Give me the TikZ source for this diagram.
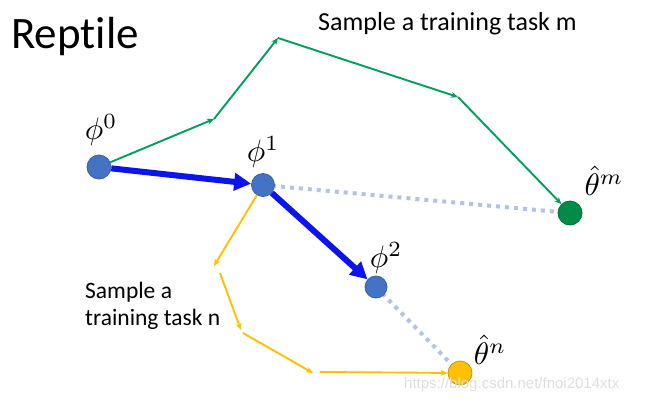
\documentclass[tikz,border=0pt]{standalone}
\usepackage{fontspec}
\setmainfont{Carlito}[Ligatures=CommonOff]
\newfontfamily\wmfont{Liberation Sans}
\usetikzlibrary{arrows.meta}
\definecolor{nodeblue}{RGB}{68,114,196}
\definecolor{nodeblueb}{RGB}{58,98,170}
\definecolor{arrblue}{RGB}{10,20,235}
\definecolor{grn}{RGB}{0,160,90}
\definecolor{grnnode}{RGB}{0,140,70}
\definecolor{gold}{RGB}{255,192,0}
\definecolor{goldb}{RGB}{200,150,0}
\definecolor{dotc}{RGB}{178,194,226}
\definecolor{wm}{RGB}{222,222,222}
\newcommand{\biglab}[1]{\scalebox{3.1}{$#1$}}
\tikzset{
  pt/.style={circle, inner sep=0pt, minimum size=#1, line width=0.8pt},
  bluept/.style={pt=24pt, fill=nodeblue, draw=nodeblueb},
  bigarrow/.style={arrblue, line width=6pt, -{Triangle[length=17pt,width=17pt]}},
  grnarrow/.style={grn, line width=1.9pt, -{Stealth[length=7pt,width=6pt]}},
  yelarrow/.style={gold, line width=1.9pt, -{Stealth[length=7pt,width=6pt]}},
  dotline/.style={dotc, line width=4pt, dash pattern=on 4pt off 5pt},
  lab/.style={inner sep=0pt}
}
\begin{document}
\begin{tikzpicture}[x=1pt,y=-1pt]
\useasboundingbox (0,0) rectangle (646,400);
% title
\node[anchor=base west, inner sep=0pt, font=\fontsize{45}{50}\selectfont] (title) at (11,48) {Reptile};
\node[anchor=base west, inner sep=0pt, font=\fontsize{26}{29}\selectfont] (tm) at (318,30) {Sample a training task m};
\node[anchor=base west, inner sep=0pt, align=left, font=\fontsize{23.5}{27}\selectfont] (tn) at (85,325) {Sample a\\training task n};
% coordinates
\coordinate (g1) at (214,119);
\coordinate (g2) at (278,38);
\coordinate (g3) at (458,97);
\coordinate (y1) at (214,266);
\coordinate (y1b) at (220,273);
\coordinate (y2) at (241,330);
\coordinate (y2b) at (243,333);
\coordinate (y3) at (313,373);
\coordinate (y3b) at (320,372);
% dotted lines (under nodes)
\coordinate (p1) at (263,185);
\coordinate (tm0) at (570,213);
\coordinate (p2) at (376,287);
\coordinate (tn0) at (460,373);
\draw[dotline] (p1) -- (tm0);
\draw[dotline] (p2) -- (tn0);
% nodes
\node[bluept] (phi0) at (99,167) {};
\node[bluept, minimum size=23pt] (phi1) at (p1) {};
\node[bluept, minimum size=22pt] (phi2) at (p2) {};
\node[pt=24pt, fill=grnnode, draw=grnnode!80!black] (thm) at (tm0) {};
\node[pt=24pt, fill=gold, draw=goldb] (thn) at (tn0) {};
% labels
\node[lab] (l0) at (101,130) {\biglab{\phi^0}};
\node[lab] (l1) at (263,152) {\biglab{\phi^1}};
\node[lab] (l2) at (386,258) {\biglab{\phi^2}};
\node[lab] (lm) at (604,181) {\biglab{\hat{\theta}^m}};
\node[lab] (ln) at (490,350) {\biglab{\hat{\theta}^n}};
% green path
\draw[grnarrow] (phi0) -- (g1);
\draw[grnarrow] (g1) -- (g2);
\draw[grnarrow] (g2) -- (g3);
\draw[grnarrow] (g3) -- (thm);
% yellow path
\draw[yelarrow] (phi1) -- (y1);
\draw[yelarrow] (y1b) -- (y2);
\draw[yelarrow] (y2b) -- (y3);
\draw[yelarrow] (y3b) -- (thn);
% blue big arrows
\draw[bigarrow] (phi0) -- (phi1);
\draw[bigarrow] (phi1) -- (phi2);
% watermark
\node[anchor=base west, inner sep=0pt, text=wm, font=\wmfont\fontsize{15}{17}\selectfont] (wmk) at (404,388) {https://blog.csdn.net/fnoi2014xtx};
\end{tikzpicture}
\end{document}
